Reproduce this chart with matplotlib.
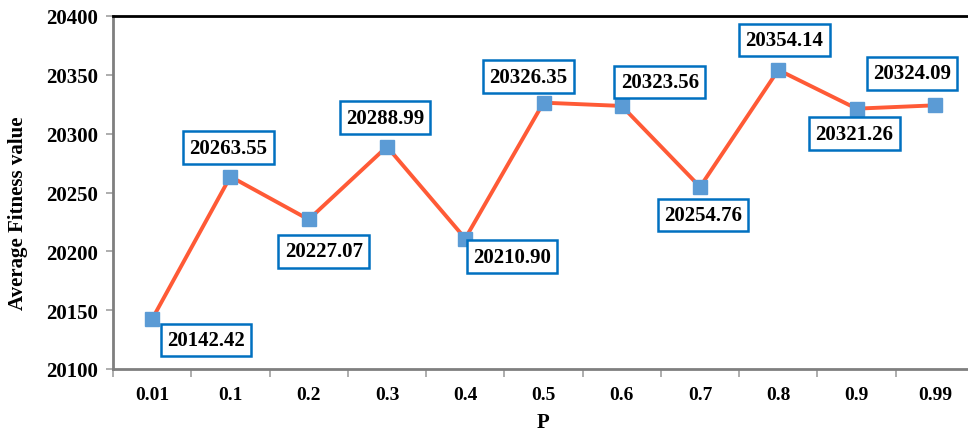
import matplotlib
matplotlib.use("Agg")
import matplotlib.pyplot as plt

p_labels = ["0.01", "0.1", "0.2", "0.3", "0.4", "0.5", "0.6", "0.7", "0.8", "0.9", "0.99"]
avg_fitness = [20142.42, 20263.55, 20227.07, 20288.99, 20210.90, 20326.35,
               20323.56, 20254.76, 20354.14, 20321.26, 20324.09]
# label box offsets from each point, in pixels
label_offsets = [(54, -21), (-2, 29), (15, -32), (-2, 29), (47, -18), (-15, 26),
                 (38, 24), (3, -28), (6, 30), (-2, -25), (-23, 32)]

plt.rcParams["font.family"] = ["Liberation Serif", "DejaVu Serif"]
plt.rcParams["font.weight"] = "bold"

W, H = 968, 435
fig = plt.figure(figsize=(W / 100, H / 100), dpi=100)
ax = fig.add_axes([113 / W, (H - 370) / H, (974 - 113) / W, (370 - 17) / H])

x = list(range(len(p_labels)))
ax.plot(x, avg_fitness, color="#FF5A36", lw=2.8, zorder=2)
ax.plot(x, avg_fitness, ls="none", marker="s", ms=9.5, color="#5B9BD5",
        mec="#5B9BD5", zorder=3)

for xi, v, (dx, dy) in zip(x, avg_fitness, label_offsets):
    ax.annotate(f"{v:.2f}", (xi, v), xytext=(dx, dy), textcoords="offset pixels",
                ha="center", va="center", fontsize=15, fontweight="bold",
                bbox=dict(boxstyle="square,pad=0.3", fc="white", ec="#0070C0", lw=1.8),
                zorder=4)

ax.set_xlim(-0.5, len(p_labels) - 0.5)
ax.set_ylim(20100, 20400)
ax.set_yticks(range(20100, 20401, 50))
ax.set_xticks(x)
ax.set_xticklabels(p_labels)
ax.set_xticks([i + 0.5 for i in range(-1, len(p_labels))], minor=True)
ax.tick_params(axis="x", which="major", length=0, pad=12, labelsize=14)
ax.tick_params(axis="x", which="minor", length=6, width=1.2, color="#A0A0A0")
ax.tick_params(axis="y", length=5, width=1.2, color="#A0A0A0", labelsize=15, pad=6)
for lab in ax.get_xticklabels() + ax.get_yticklabels():
    lab.set_fontweight("bold")

ax.spines["right"].set_visible(False)
ax.spines["top"].set_color("black")
ax.spines["top"].set_linewidth(2)
ax.spines["left"].set_color("#7F7F7F")
ax.spines["left"].set_linewidth(2)
ax.spines["bottom"].set_color("#7F7F7F")
ax.spines["bottom"].set_linewidth(2)

ax.set_ylabel("Average Fitness value", fontsize=15, fontweight="bold",
              ha="center", va="center")
ax.yaxis.set_label_coords(-0.110, 0.445)
ax.set_xlabel("P", fontsize=15, fontweight="bold", ha="center", va="center")
ax.xaxis.set_label_coords(0.4995, -0.150)

fig.savefig("out.png", dpi=100)
